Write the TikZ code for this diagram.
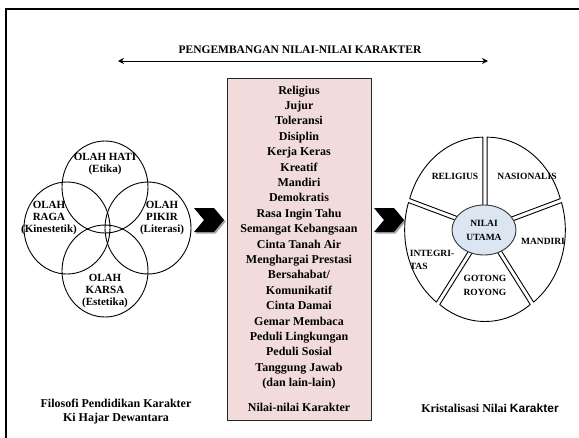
\documentclass[tikz,border=0pt]{standalone}
\usepackage{fontspec}
\setmainfont{Liberation Serif}
\newfontfamily\sansf{Liberation Sans}
\usetikzlibrary{arrows.meta,calc,shapes.geometric}
\definecolor{boxpink}{HTML}{F2DCDB}
\definecolor{innerblue}{HTML}{DCE6F2}
\begin{document}
\begin{tikzpicture}[x=1pt,y=1pt,
  ring/.style={draw=black, line width=0.9pt, ellipse, minimum width=86pt, minimum height=92pt, inner sep=0pt},
  ctext/.style={font=\fontsize{11}{12}\selectfont\bfseries, align=center, inner sep=0pt},
  btext/.style={font=\fontsize{12}{15.4}\selectfont\bfseries, align=center, inner sep=0pt},
  wtext/.style={font=\fontsize{9.5}{14}\selectfont\bfseries, align=center, inner sep=0pt},
  captext/.style={font=\fontsize{12}{14}\selectfont\bfseries, align=center, inner sep=0pt},
  wedge/.style={draw=black, fill=white, line width=0.9pt, line join=round},
  chev/.style={fill=black},
  chevshadow/.style={fill=black!35},
]
\useasboundingbox (0,0) rectangle (579,-437);
% frame (continues beyond the right and bottom edges)
\begin{scope}
\clip (0,0) rectangle (579,-437);
\draw[line width=2pt] (6,-700) -- (6,-9) -- (800,-9);
\end{scope}

% title and double arrow
\node[font=\fontsize{11.5}{13}\selectfont\bfseries, inner sep=0pt] (title) at (300,-50) {PENGEMBANGAN NILAI-NILAI KARAKTER};
\coordinate (arl) at (118,-61);
\coordinate (arr) at (488,-61);
\draw[line width=0.9pt, {Stealth[length=6pt,width=6pt,inset=2pt]}-{Stealth[length=6pt,width=6pt,inset=2pt]}] (arl) -- (arr);

% four circles
\node[ring] (hati) at (105,-187) {};
\node[ring] (raga) at (67,-228) {};
\node[ring] (pikir) at (148,-228) {};
\node[ring] (karsa) at (105,-271) {};
\node[ctext] (thati) at (105,-164.5) {OLAH HATI\\(Etika)};
\node[ctext] (traga) at (49,-218) {OLAH\\RAGA\\(Kinestetik)};
\node[ctext] (tpikir) at (162,-218) {OLAH\\PIKIR\\(Literasi)};
\node[ctext] (tkarsa) at (105,-291) {OLAH\\KARSA\\(Estetika)};

\node[captext] (filo) at (116,-412) {Filosofi Pendidikan Karakter\\Ki Hajar Dewantara};

% chevrons
\begin{scope}[shift={(194,-220)}]
  \fill[chevshadow, shift={(1.6,-1.6)}] (0,12) -- (20,12) -- (30,0) -- (20,-12) -- (0,-12) -- (10,0) -- cycle;
  \fill[chev] (0,12) -- (20,12) -- (30,0) -- (20,-12) -- (0,-12) -- (10,0) -- cycle;
\end{scope}
\begin{scope}[shift={(374,-220)}]
  \fill[chevshadow, shift={(1.6,-1.6)}] (0,12) -- (20,12) -- (30,0) -- (20,-12) -- (0,-12) -- (10,0) -- cycle;
  \fill[chev] (0,12) -- (20,12) -- (30,0) -- (20,-12) -- (0,-12) -- (10,0) -- cycle;
\end{scope}

% central box
\node[draw=black!85, fill=boxpink, line width=0.9pt, minimum width=144pt, minimum height=342pt, anchor=north west, inner sep=0pt] (box) at (227,-78) {};
\node[btext] (values) at (299,-248.5) {Religius\\Jujur\\Toleransi\\Disiplin\\Kerja Keras\\Kreatif\\Mandiri\\Demokratis\\Rasa Ingin Tahu\\Semangat Kebangsaan\\Cinta Tanah Air\\Menghargai Prestasi\\Bersahabat/\\Komunikatif\\Cinta Damai\\Gemar Membaca\\Peduli Lingkungan\\Peduli Sosial\\Tanggung Jawab\\(dan lain-lain)\\[9pt]Nilai-nilai Karakter};

% wheel
\begin{scope}[shift={(485,-229)}]
  \foreach \a/\b in {18/90, 90/162, 162/234, 234/306, -54/18} {
    \pgfmathsetmacro\m{(\a+\b)/2}
    \draw[wedge, shift={(\m:3.5)}] (0,0) -- (\a:77 and 89) arc[start angle=\a, end angle=\b, x radius=77, y radius=89] -- cycle;
  }
\end{scope}
\node[draw=black!80, fill=innerblue, line width=0.9pt, ellipse, minimum width=64pt, minimum height=50pt, inner sep=0pt, wtext] (utama) at (484,-230) {NILAI\\UTAMA};
\node[wtext] (religius) at (455,-176) {RELIGIUS};
\node[wtext] (nasional) at (527,-176) {NASIONALIS};
\node[wtext] (mandiri) at (543,-241) {MANDIRI};
\node[wtext, align=left, font=\fontsize{9.5}{13}\selectfont\bfseries] (integ) at (432,-259.5) {INTEGRI-\\TAS};
\node[wtext] (gotong) at (485,-285) {GOTONG\\ROYONG};

\node[captext] (krist) at (490,-408) {Kristalisasi Nilai {\sansf\bfseries Karakter}};
\end{tikzpicture}
\end{document}
